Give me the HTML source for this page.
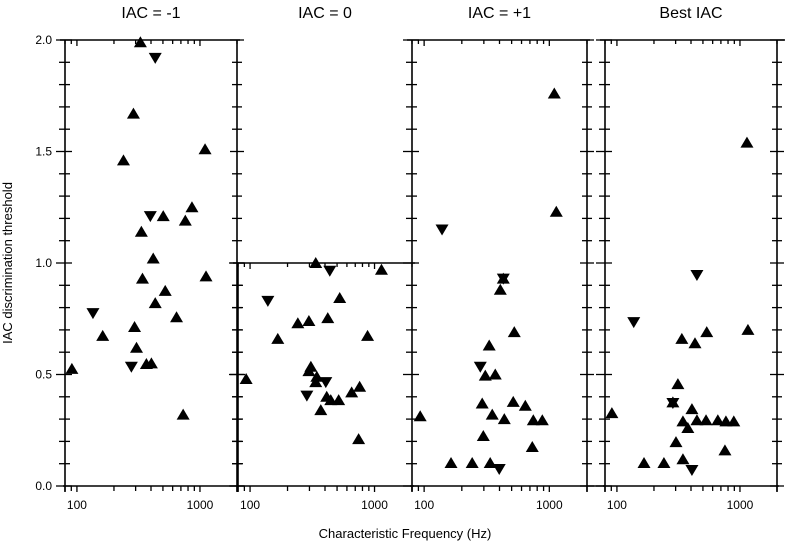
<!DOCTYPE html>
<html><head><meta charset="utf-8"><style>
html,body{margin:0;padding:0;background:#fff}
svg text{font-family:"Liberation Sans",Arial,sans-serif;fill:#000}
</style></head><body>
<svg id="chart" width="785" height="550" viewBox="0 0 785 550" xmlns="http://www.w3.org/2000/svg"></svg>
<script>
const panelTitles = ["IAC = -1","IAC = 0","IAC = +1","Best IAC"];
const yTickLabels = ["0.0","0.5","1.0","1.5","2.0"];
const xTickLabels = ["100","1000"];
// Panel 1 (IAC = -1)
const p1Freq = [328,433,288,1100,239,395,503,861,760,334,417,341,1120,522,433,135,645,162,294,305,277,367,403,91,730];
const p1Val  = [1.99,1.92,1.67,1.51,1.46,1.21,1.21,1.25,1.19,1.14,1.02,0.93,0.94,0.875,0.82,0.775,0.757,0.673,0.713,0.62,0.535,0.547,0.55,0.525,0.32];
const p1Dir  = ["u","d","u","u","u","d","u","u","u","u","u","u","u","u","u","d","u","u","u","u","d","u","u","u","u"];
// Panel 2 (IAC = 0)
const p2Freq = [337,437,1137,139,525,242,297,421,167,879,93,308,297,344,337,406,286,413,445,515,370,655,759,745];
const p2Val  = [1.0,0.965,0.97,0.83,0.843,0.73,0.74,0.753,0.66,0.673,0.48,0.535,0.515,0.49,0.466,0.466,0.405,0.40,0.385,0.385,0.34,0.42,0.445,0.21];
const p2Dir  = ["u","d","u","d","u","u","u","u","u","u","u","u","u","u","u","d","d","u","u","u","u","u","u","u"];
// Panel 3 (IAC = +1)
const p3Freq = [1096,1137,139,429,429,406,525,331,281,308,370,291,350,437,515,643,745,879,93,297,731,164,242,337,398];
const p3Val  = [1.76,1.23,1.15,0.93,0.93,0.88,0.69,0.63,0.535,0.495,0.50,0.37,0.32,0.30,0.377,0.36,0.295,0.295,0.313,0.224,0.175,0.103,0.103,0.103,0.076];
const p3Dir  = ["u","u","d","u","d","u","u","u","d","u","u","u","u","u","u","u","u","u","u","u","u","u","u","u","d"];
// Panel 4 (Best IAC)
const p4Freq = [1140,447,137,1161,537,337,431,313,285,285,407,344,447,530,661,769,891,377,91,302,755,166,241,344,407];
const p4Val  = [1.54,0.946,0.735,0.70,0.69,0.66,0.64,0.457,0.372,0.375,0.345,0.29,0.295,0.295,0.295,0.29,0.29,0.26,0.327,0.197,0.16,0.103,0.103,0.12,0.072];
const p4Dir  = ["u","d","d","u","u","u","u","u","d","u","u","u","u","u","u","u","u","u","u","u","u","u","u","u","d"];

const svg = document.getElementById('chart');
const NS = "http://www.w3.org/2000/svg";
function mk(tag, attrs){const e=document.createElementNS(NS,tag);for(const k in attrs)e.setAttribute(k,attrs[k]);svg.appendChild(e);return e;}
const Y0=486, Y2=40;
function yScale(v){return Y0-(Y0-Y2)*v/2;}
const FMIN=80, FMAX=2000;
function xScaleFor(x0,x1){return f=>x0+(x1-x0)*(Math.log10(f)-Math.log10(FMIN))/(Math.log10(FMAX)-Math.log10(FMIN));}

const panels=[
 {x0:65,x1:237,top:2.0,f:p1Freq,v:p1Val,d:p1Dir,left:true,right:true},
 {x0:238,x1:412,top:1.0,f:p2Freq,v:p2Val,d:p2Dir,left:true,right:false},
 {x0:412,x1:587,top:2.0,f:p3Freq,v:p3Val,d:p3Dir,left:true,right:true},
 {x0:605,x1:777,top:2.0,f:p4Freq,v:p4Val,d:p4Dir,left:true,right:true}
];
const xTickVals=[80,90,100,200,300,400,500,600,700,800,900,1000,2000];

panels.forEach((p,pi)=>{
  const xs=xScaleFor(p.x0,p.x1);
  const yt=yScale(p.top);
  const title=mk('text',{x:(p.x0+p.x1)/2,y:18,'text-anchor':'middle','font-size':'16'});
  title.textContent=panelTitles[pi];
  
  
  const top=mk('line',{x1:p.x0-5,y1:yt,x2:p.x1+(pi===3?8:3),y2:yt,stroke:'#000','stroke-width':'1.6'});
  
  
  const bot=mk('line',{x1:p.x0-2,y1:Y0,x2:p.x1+(pi===2?18:2),y2:Y0,stroke:'#000','stroke-width':'1.6'});
  
  
  if(p.left){const l=mk('line',{x1:p.x0,y1:yt,x2:p.x0,y2:Y0+6,stroke:'#000','stroke-width':'1.6'});
    
    }
  if(p.right){const r=mk('line',{x1:p.x1,y1:yt,x2:p.x1,y2:Y0+6,stroke:'#000','stroke-width':'1.6'});
    
    }
  for(let i=0;i<=Math.round(p.top*10);i++){
    const v=i/10, y=yScale(v), major=(i%5===0);
    const L=major?7:5;
    if(p.left){mk('line',{x1:p.x0-(major?9:6),y1:y,x2:p.x0+L,y2:y,stroke:'#000','stroke-width':'1.3'});}
    if(p.right){mk('line',{x1:p.x1-L,y1:y,x2:p.x1+(major?7:5),y2:y,stroke:'#000','stroke-width':'1.3'});}
    if(pi===0 && major){
      const t=mk('text',{x:52,y:y+4,'text-anchor':'end','font-size':'12'});
      t.textContent=yTickLabels[i/5];
      
      
    }
  }
  xTickVals.forEach(f=>{
    const x=xs(f), major=(f===100||f===1000);
    if(x<p.x0-1||x>p.x1+1)return;
    mk('line',{x1:x,y1:Y0,x2:x,y2:Y0+(major?6:5),stroke:'#000','stroke-width':'1.3'});
    mk('line',{x1:x,y1:yt,x2:x,y2:yt+(major?6:4),stroke:'#000','stroke-width':'1.3'});
  });
  [100,1000].forEach((f,k)=>{
    const t=mk('text',{x:xs(f),y:509,'text-anchor':'middle','font-size':'12'});
    t.textContent=xTickLabels[k];
    
    
  });
  p.f.forEach((f,i)=>{
    const cx=xs(f), cy=yScale(p.v[i]);
    let pts;
    if(p.d[i]==='u') pts=`${cx-6.5},${cy+5} ${cx+6.5},${cy+5} ${cx},${cy-6}`;
    else pts=`${cx-6.5},${cy-5} ${cx+6.5},${cy-5} ${cx},${cy+6}`;
    const m=mk('polygon',{points:pts,fill:'#000'});
    
    
  });
});
const yl=mk('text',{x:0,y:0,'text-anchor':'middle','font-size':'13',transform:'translate(12,263) rotate(-90)'});
yl.textContent='IAC discrimination threshold';


const xl=mk('text',{x:405,y:538,'text-anchor':'middle','font-size':'13'});
xl.textContent='Characteristic Frequency (Hz)';


</script>
</body></html>
